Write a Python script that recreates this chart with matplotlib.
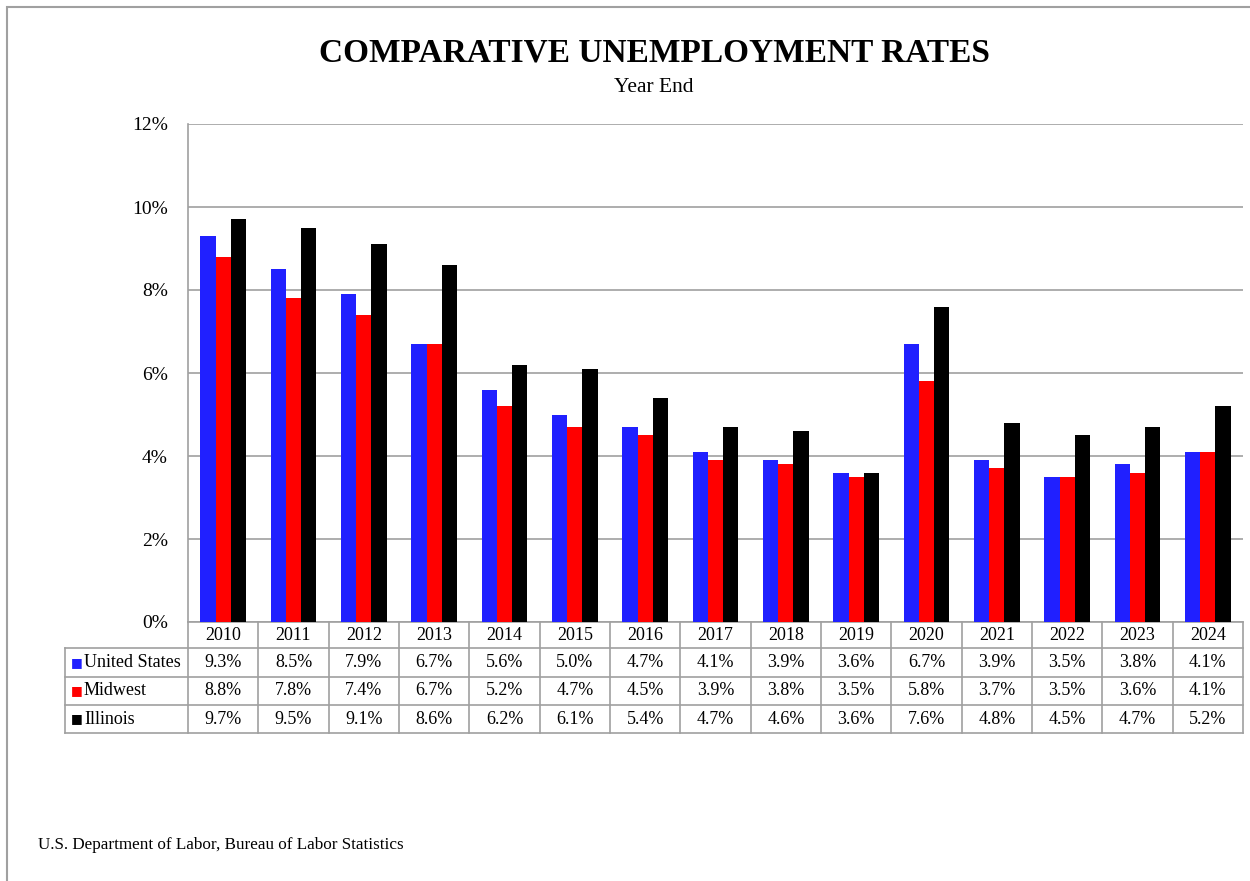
import matplotlib.pyplot as plt
import matplotlib.transforms as mtransforms
from matplotlib.patches import Rectangle

years = ['2010', '2011', '2012', '2013', '2014', '2015', '2016', '2017',
         '2018', '2019', '2020', '2021', '2022', '2023', '2024']
us = [9.3, 8.5, 7.9, 6.7, 5.6, 5.0, 4.7, 4.1, 3.9, 3.6, 6.7, 3.9, 3.5, 3.8, 4.1]
midwest = [8.8, 7.8, 7.4, 6.7, 5.2, 4.7, 4.5, 3.9, 3.8, 3.5, 5.8, 3.7, 3.5, 3.6, 4.1]
illinois = [9.7, 9.5, 9.1, 8.6, 6.2, 6.1, 5.4, 4.7, 4.6, 3.6, 7.6, 4.8, 4.5, 4.7, 5.2]
series_names = ['United States', 'Midwest', 'Illinois']
colors = ['#2020FF', '#FF0000', '#000000']

plt.rcParams['font.family'] = ['Liberation Serif', 'DejaVu Serif']

W, H = 1250, 881
fig = plt.figure(figsize=(W / 100, H / 100), dpi=100)

# outer frame (clipped at right/bottom like the reference)
fig.patches.append(Rectangle((7 / W, -0.05), 1.1, 1 - 7 / H + 0.05,
                             transform=fig.transFigure, fill=False,
                             edgecolor='#a0a0a0', linewidth=1.5))

ax = fig.add_axes([188 / W, 1 - 622 / H, 1055 / W, 498 / H])

bw = 0.218
data = [us, midwest, illinois]
for k, (vals, c) in enumerate(zip(data, colors)):
    xs = [i + (k - 1) * bw for i in range(len(years))]
    ax.bar(xs, vals, width=bw, color=c, edgecolor='none', zorder=3)

ax.set_xlim(-0.5, len(years) - 0.5)
ax.set_ylim(0, 12)
ax.set_yticks(range(0, 13, 2))
ax.set_yticklabels([f'{v}%' for v in range(0, 13, 2)], fontsize=14)
ax.tick_params(axis='y', length=0, pad=14.5)
ax.set_xticks([])
ax.yaxis.grid(True, color='#a0a0a0', linewidth=1.2, zorder=0)
for s in ['right', 'bottom', 'top']:
    ax.spines[s].set_visible(False)
ax.spines['left'].set_color('#a0a0a0')
ax.spines['left'].set_linewidth(1.2)

# data table under the plot
trans = mtransforms.blended_transform_factory(ax.transData, ax.transAxes)
lc = '#a0a0a0'
lw = 1.2
ax_h = 498.0
row_px = [622, 648, 676.5, 705, 733]
row_y = [(622 - p) / ax_h for p in row_px]
x_left = -0.5 - 123 / (1055 / len(years))
x_right = len(years) - 0.5

# horizontal lines
ax.plot([-0.5, x_right], [row_y[0]] * 2, color=lc, lw=lw, transform=trans, clip_on=False)
for y in row_y[1:]:
    ax.plot([x_left, x_right], [y, y], color=lc, lw=lw, transform=trans, clip_on=False)
# vertical lines
for j in range(len(years) + 1):
    xv = j - 0.5
    ax.plot([xv, xv], [row_y[0], row_y[-1]], color=lc, lw=lw, transform=trans, clip_on=False)
ax.plot([x_left, x_left], [row_y[1], row_y[-1]], color=lc, lw=lw, transform=trans, clip_on=False)

# header
for i, yr in enumerate(years):
    ax.text(i, (row_y[0] + row_y[1]) / 2, yr, transform=trans, ha='center',
            va='center', fontsize=13)

for r, (name, vals, c) in enumerate(zip(series_names, data, colors)):
    yc = (row_y[r + 1] + row_y[r + 2]) / 2
    ax.text(x_left + 0.08, yc, '■', transform=trans, ha='left', va='center',
            fontsize=9, color=c, family='DejaVu Sans')
    ax.text(x_left + 0.27, yc, name, transform=trans, ha='left', va='center',
            fontsize=13)
    for i, v in enumerate(vals):
        ax.text(i, yc, f'{v:.1f}%', transform=trans, ha='center', va='center',
                fontsize=13)

fig.text(654 / W, 1 - 53 / H, 'COMPARATIVE UNEMPLOYMENT RATES', ha='center',
         va='center', fontsize=24, fontweight='bold')
fig.text(654 / W, 1 - 88 / H, 'Year End', ha='center', va='center', fontsize=15.5)
fig.text(38 / W, 1 - 845 / H, 'U.S. Department of Labor, Bureau of Labor Statistics',
         ha='left', va='center', fontsize=12.3)

fig.savefig('out.png', dpi=100)
